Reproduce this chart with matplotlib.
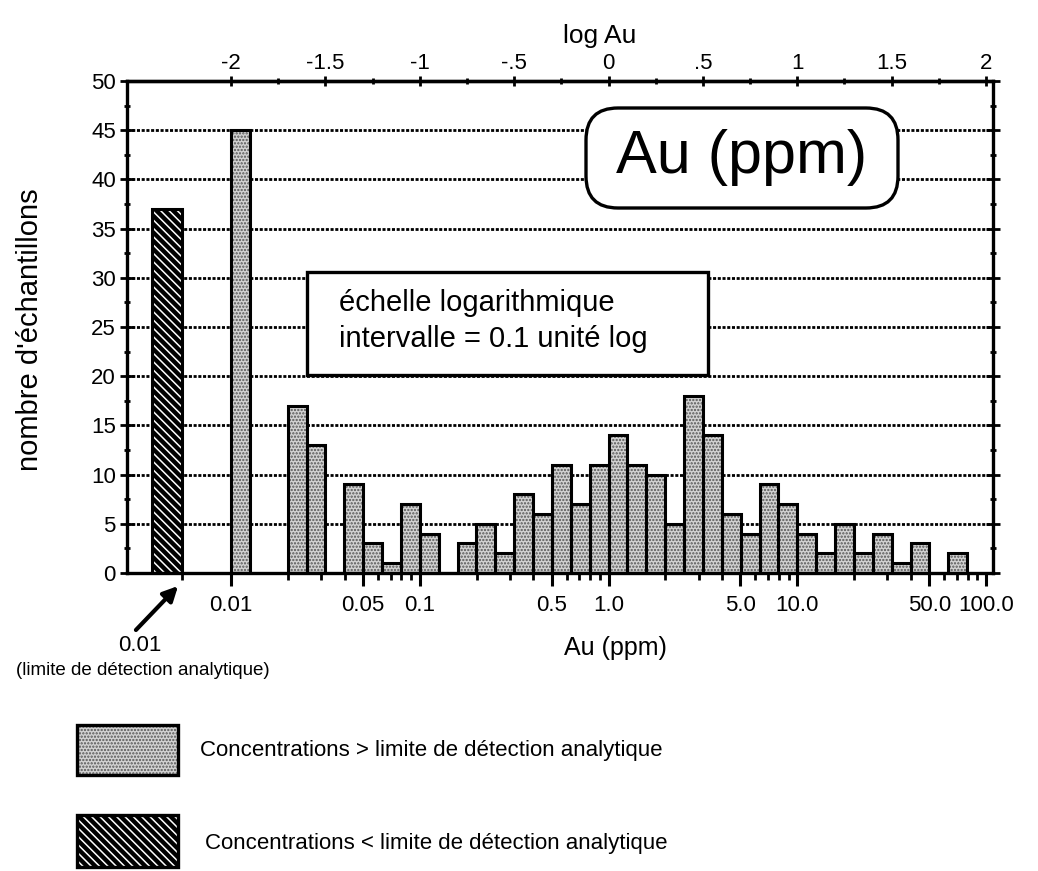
import numpy as np
import matplotlib
matplotlib.use("Agg")
import matplotlib.pyplot as plt
from matplotlib.patches import Rectangle, FancyBboxPatch
from matplotlib.ticker import FixedLocator, NullFormatter

plt.rcParams['font.family'] = ['Liberation Sans', 'DejaVu Sans']
plt.rcParams['hatch.linewidth'] = 1.1

# ---------------- data ----------------
# lower edge (log10 Au) of each 0.1 log-unit class and number of samples
bin_lower_log = [-2.0, -1.9, -1.8, -1.7, -1.6, -1.5, -1.4, -1.3, -1.2, -1.1,
                 -1.0, -0.9, -0.8, -0.7, -0.6, -0.5, -0.4, -0.3, -0.2, -0.1,
                 0.0, 0.1, 0.2, 0.3, 0.4, 0.5, 0.6, 0.7, 0.8, 0.9,
                 1.0, 1.1, 1.2, 1.3, 1.4, 1.5, 1.6, 1.7, 1.8]
counts = [45, 0, 0, 17, 13, 0, 9, 3, 1, 7,
          4, 0, 3, 5, 2, 8, 6, 11, 7, 11,
          14, 11, 10, 5, 18, 14, 6, 4, 9, 7,
          4, 2, 5, 2, 4, 1, 3, 0, 2]
bin_width = 0.1

below_dl_count = 37            # samples < detection limit (0.01 ppm)

bottom_tick_values = [0.01, 0.05, 0.1, 0.5, 1.0, 5.0, 10.0, 50.0, 100.0]
bottom_tick_labels = ['0.01', '0.05', '0.1', '0.5', '1.0', '5.0', '10.0', '50.0', '100.0']
bottom_minor_values = [0.02, 0.03, 0.04, 0.06, 0.07, 0.08, 0.09,
                       0.2, 0.3, 0.4, 0.6, 0.7, 0.8, 0.9,
                       2, 3, 4, 6, 7, 8, 9,
                       20, 30, 40, 60, 70, 80, 90]
top_tick_values = [-2, -1.5, -1, -0.5, 0, 0.5, 1, 1.5, 2]
top_tick_labels = ['-2', '-1.5', '-1', '-.5', '0', '.5', '1', '1.5', '2']
y_tick_values = [0, 5, 10, 15, 20, 25, 30, 35, 40, 45, 50]

# ---------------- figure ----------------
W, H = 1038, 871
fig = plt.figure(figsize=(W / 100, H / 100), dpi=100)


def px(x, y):
    return x / W, 1 - y / H


ax_left, ax_right, ax_top, ax_bot = 127, 993, 81, 573
ax = fig.add_axes([ax_left / W, 1 - ax_bot / H, (ax_right - ax_left) / W, (ax_bot - ax_top) / H])

x_min, x_max = -2.551, 2.037
ax.set_xlim(x_min, x_max)
ax.set_ylim(0, 50)

stipple_face = '#d2d2d2'
stipple_dots = '#555555'
dl_hatch = '\\\\\\\\'
edge_lw = 2.2

# grid lines
ax.set_axisbelow(True)
for yv in y_tick_values[1:-1]:
    ax.axhline(yv, color='black', lw=2.0, ls=(0, (1.1, 0.6)), zorder=0.5)

# bars above detection limit
lefts = [b for b, c in zip(bin_lower_log, counts) if c > 0]
heights = [c for c in counts if c > 0]
ax.bar(lefts, heights, width=bin_width, align='edge', facecolor=stipple_face,
       edgecolor=stipple_dots, hatch='.....', linewidth=0, zorder=2)
ax.bar(lefts, heights, width=bin_width, align='edge', fill=False,
       edgecolor='black', linewidth=edge_lw, zorder=3)

# bar below detection limit (drawn left of the 0.01 class)
dl_left, dl_width = -2.42, 0.16
ax.bar([dl_left], [below_dl_count], width=dl_width, align='edge', facecolor='black',
       edgecolor='white', hatch=dl_hatch, linewidth=0, zorder=2)
ax.bar([dl_left], [below_dl_count], width=dl_width, align='edge', fill=False,
       edgecolor='black', linewidth=edge_lw, zorder=3)

# spines
for s in ax.spines.values():
    s.set_linewidth(2.4)

# y axis ticks
ax.set_yticks(y_tick_values)
ax.yaxis.set_minor_locator(FixedLocator([v + 2.5 for v in y_tick_values[:-1]]))
ax.tick_params(axis='y', which='major', direction='inout', length=10, width=2,
               labelsize=16, pad=3, right=True)
ax.tick_params(axis='y', which='minor', direction='inout', length=5, width=2, right=True)

# bottom axis ticks (Au ppm on log positions)
ax.set_xticks(np.log10(bottom_tick_values))
ax.set_xticklabels(bottom_tick_labels)
ax.xaxis.set_minor_locator(FixedLocator(list(np.log10(bottom_minor_values)) + [dl_left + dl_width]))
ax.xaxis.set_minor_formatter(NullFormatter())
ax.tick_params(axis='x', which='major', direction='out', length=9, width=2.2,
               labelsize=16, pad=7)
ax.tick_params(axis='x', which='minor', direction='out', length=5, width=2)

# top axis (log Au)
secax = ax.secondary_xaxis('top')
secax.set_xticks(top_tick_values)
secax.set_xticklabels(top_tick_labels)
secax.xaxis.set_minor_locator(FixedLocator([v + 0.25 for v in top_tick_values[:-1]]))
secax.tick_params(axis='x', which='major', direction='inout', length=7, width=2,
                  labelsize=16, pad=1.5)
secax.tick_params(axis='x', which='minor', direction='inout', length=4, width=2)
secax.spines['top'].set_linewidth(2.4)

# boxes
ax.add_patch(Rectangle((0.208, 0.402), 0.463, 0.210, transform=ax.transAxes,
                       facecolor='white', edgecolor='black', lw=2.4, zorder=4))
ax.text(0.245, 0.548, 'échelle logarithmique', transform=ax.transAxes,
        fontsize=21, va='center', ha='left', zorder=5)
ax.text(0.245, 0.476, 'intervalle = 0.1 unité log', transform=ax.transAxes,
        fontsize=21, va='center', ha='left', zorder=5)

au_box = FancyBboxPatch((5.86, 6.63), 3.12, 1.0, boxstyle='round,pad=0,rounding_size=0.32',
                        transform=fig.dpi_scale_trans, facecolor='white',
                        edgecolor='black', lw=2.4, zorder=4)
ax.add_patch(au_box)
fig.text(*px(742, 158), 'Au (ppm)', fontsize=44, ha='center', va='center', zorder=6)

# axis titles
fig.text(*px(600, 36), 'log Au', fontsize=19, ha='center', va='center')
fig.text(*px(615, 648), 'Au (ppm)', fontsize=18, ha='center', va='center')
fig.text(*px(30, 330), "nombre d'échantillons", fontsize=21, rotation=90,
         ha='center', va='center')

# detection-limit annotation
fig.text(*px(140, 645), '0.01', fontsize=16, ha='center', va='center')
fig.text(*px(143, 670), '(limite de détection analytique)', fontsize=13.5,
         ha='center', va='center')
fig.add_artist(matplotlib.patches.FancyArrowPatch(
    px(134, 632), px(180, 584), transform=fig.transFigure,
    arrowstyle='-|>', mutation_scale=22, lw=3, color='black'))

# legend
leg1 = Rectangle(px(77, 775), 101 / W, 50 / H, transform=fig.transFigure,
                 facecolor=stipple_face, edgecolor=stipple_dots, hatch='.....', lw=0)
leg1b = Rectangle(px(77, 775), 101 / W, 50 / H, transform=fig.transFigure,
                  fill=False, edgecolor='black', lw=2.4)
leg2 = Rectangle(px(77, 867), 101 / W, 52 / H, transform=fig.transFigure,
                 facecolor='black', edgecolor='white', hatch=dl_hatch, lw=0)
leg2b = Rectangle(px(77, 867), 101 / W, 52 / H, transform=fig.transFigure,
                  fill=False, edgecolor='black', lw=2.4)
for p in (leg1, leg1b, leg2, leg2b):
    fig.add_artist(p)
fig.text(*px(200, 750), 'Concentrations > limite de détection analytique',
         fontsize=16, ha='left', va='center')
fig.text(*px(205, 843), 'Concentrations < limite de détection analytique',
         fontsize=16, ha='left', va='center')

fig.savefig('out.png', dpi=100)
